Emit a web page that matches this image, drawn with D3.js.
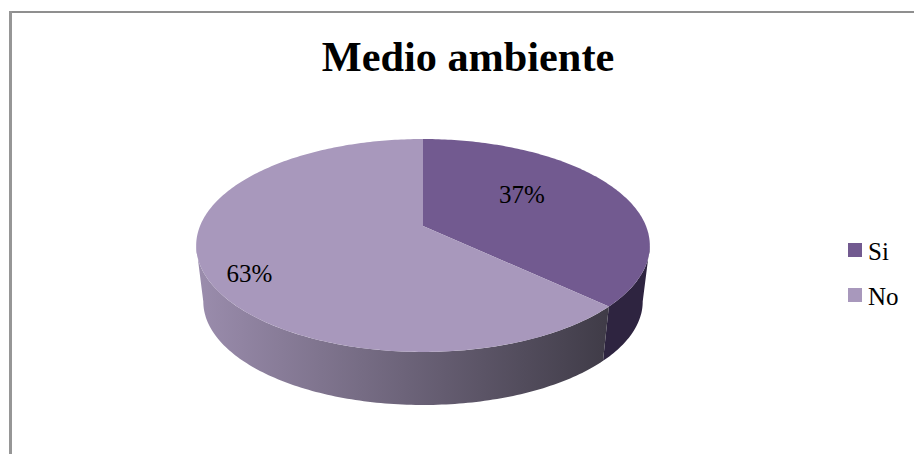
<!DOCTYPE html>
<html>
<head>
<meta charset="utf-8">
<script src="https://cdn.jsdelivr.net/npm/d3@7"></script>
<style>
  html, body { margin: 0; padding: 0; background: #fff; }
  svg { display: block; }
  text { font-family: "Liberation Serif", serif; fill: #000; }
</style>
</head>
<body>
<div id="chart"></div>
<script>
var categories = ["Si", "No"];
var values = [37, 63];
var value_labels = ["37%", "63%"];
var chart_title = "Medio ambiente";
var slice_colors = ["#725a90", "#a898bc"];

var width = 914, height = 454;

var svg = d3.select("#chart")
    .append("svg")
        .attr("width", width)
        .attr("height", height);

// chart frame only shows on the top and left
svg.append("rect").attr("x", 9).attr("y", 11).attr("width", width - 9).attr("height", 2).attr("fill", "#8f8f8f");
svg.append("rect").attr("x", 9).attr("y", 11).attr("width", 3).attr("height", height - 11).attr("fill", "#969696");

svg.append("text")
    .attr("x", 468)
    .attr("y", 71)
    .attr("text-anchor", "middle")
    .attr("font-size", 42.3)
    .attr("font-weight", "bold")
    .text(chart_title);

// perspective: p pulls the near edge of the disc down, the far edge up
var p = 0.183;
var center_x = 423;
var top_rim = {vy: 226, rx: 223, ry: 102.9};
var low_rim = {vy: 282.6, rx: 216, ry: 100};

function project(rim, angle, r) {
    var X = r * Math.sin(angle);
    var Y = -r * Math.cos(angle);
    var s = 1 / (1 - p * Y);
    return [center_x + rim.rx * X * s, rim.vy + rim.ry * Y * s];
}

function rim_points(rim, a0, a1) {
    var n = Math.max(2, Math.ceil(Math.abs(a1 - a0) * 60));
    return d3.range(n + 1).map(function(i) {
        return project(rim, a0 + (a1 - a0) * i / n, 1);
    });
}

var pie = d3.pie().sort(null).value(function(d) { return d; });
var slices = pie(values);
var color = d3.scaleOrdinal().domain(categories).range(slice_colors);
var line = d3.line();

var side_grad = svg.append("defs").append("linearGradient")
    .attr("id", "side_grad")
    .attr("gradientUnits", "userSpaceOnUse")
    .attr("x1", 200).attr("x2", 605).attr("y1", 0).attr("y2", 0);
side_grad.append("stop").attr("offset", 0).attr("stop-color", "#9a8cac");
side_grad.append("stop").attr("offset", 1).attr("stop-color", "#403c48");

// only the part of the wall facing the viewer is visible
var vis_start = Math.PI / 2 + Math.asin(p);
var vis_end = 2 * Math.PI - vis_start;
var side_fill = ["#2e2440", "url(#side_grad)"];

slices.forEach(function(d, i) {
    var a0 = Math.max(d.startAngle, vis_start);
    var a1 = Math.min(d.endAngle, vis_end);
    if (a1 <= a0) return;
    var pts = rim_points(top_rim, a0, a1).concat(rim_points(low_rim, a1, a0));
    svg.append("path")
        .attr("d", line(pts) + "Z")
        .attr("fill", side_fill[i]);
});

slices.forEach(function(d, i) {
    var pts = [project(top_rim, 0, 0)].concat(rim_points(top_rim, d.startAngle, d.endAngle));
    svg.append("path")
        .attr("d", line(pts) + "Z")
        .attr("fill", color(categories[i]));
});

var label_nudge = [[-28, 2], [-34, 28]];
slices.forEach(function(d, i) {
    var c = project(top_rim, (d.startAngle + d.endAngle) / 2, 0.65);
    svg.append("text")
        .attr("x", c[0] + label_nudge[i][0])
        .attr("y", c[1] + label_nudge[i][1])
        .attr("text-anchor", "middle")
        .attr("font-size", 25)
        .text(value_labels[i]);
});

var legend_y = d3.scalePoint().domain(categories).range([243, 288]);
var legend = svg.selectAll(".legend")
    .data(categories)
    .enter().append("g")
        .attr("class", "legend")
        .attr("transform", function(d) { return "translate(848," + legend_y(d) + ")"; });
legend.append("rect")
    .attr("width", 14)
    .attr("height", 14)
    .attr("fill", function(d) { return color(d); });
legend.append("text")
    .attr("x", 20)
    .attr("y", 17)
    .attr("font-size", 25)
    .text(function(d) { return d; });
</script>
</body>
</html>
